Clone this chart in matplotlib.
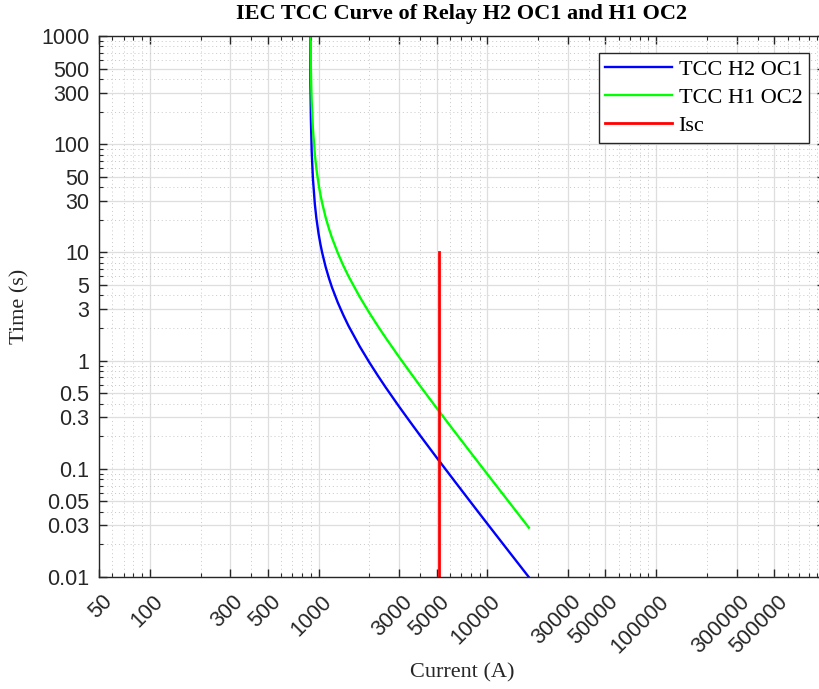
import numpy as np
import matplotlib
matplotlib.use('Agg')
import matplotlib.pyplot as plt
import matplotlib.transforms as mtransforms
from matplotlib.ticker import FixedLocator, LogLocator, NullFormatter

# data: current (A) vs trip time (s)
i_h2oc1 = [891.7, 893, 895, 900, 910, 925, 950, 970, 1000, 1025, 1050, 1100, 1150,
           1200, 1300, 1400, 1500, 1750, 2000, 2250, 2500, 3000, 3500, 4000, 5000,
           6500, 8000, 10000, 13000, 17600]
t_h2oc1 = [1000, 575.7, 345, 172, 85.5, 48.5, 27.9, 20.7, 14.8, 11.91, 9.92, 7.37, 5.81,
           4.75, 3.43, 2.64, 2.11, 1.356, 0.960, 0.721, 0.564, 0.375, 0.269, 0.2025, 0.1272,
           0.0743, 0.0487, 0.0310, 0.0183, 0.00997]

i_h1oc2 = [895, 897, 900, 905, 910, 925, 950, 970, 1000, 1025, 1050, 1100, 1150,
           1200, 1300, 1400, 1500, 1750, 2000, 2250, 2500, 3000, 3500, 4000, 5000,
           6500, 8000, 10000, 13000, 17600]
t_h1oc2 = [995, 706.7, 493.8, 328.3, 245.5, 139.2, 80.1, 59.4, 42.5, 34.2, 28.5, 21.15, 16.67,
           13.64, 9.85, 7.57, 6.06, 3.89, 2.756, 2.07, 1.62, 1.077, 0.772, 0.581, 0.365,
           0.2132, 0.1399, 0.0891, 0.0526, 0.0286]

i_sc = [5145, 5145]
t_sc = [0.01, 10]

x_ticks = [50, 100, 300, 500, 1000, 3000, 5000, 10000, 30000, 50000, 100000, 300000, 500000]
y_ticks = [0.01, 0.03, 0.05, 0.1, 0.3, 0.5, 1, 3, 5, 10, 30, 50, 100, 300, 500, 1000]

sans = ['Liberation Sans', 'DejaVu Sans']
serif = ['Liberation Serif', 'DejaVu Serif']

fig = plt.figure(figsize=(8.19, 6.89), dpi=100)
ax = fig.add_axes([99/819, 1-577/689, (825-99)/819, (577-36)/689])

ax.plot(i_h2oc1, t_h2oc1, color=(0, 0, 1), lw=1.7, label='TCC H2 OC1')
ax.plot(i_h1oc2, t_h1oc2, color=(0, 1, 0), lw=1.7, label='TCC H1 OC2')
ax.plot(i_sc, t_sc, color=(1, 0, 0), lw=2, label='Isc')

ax.set_xscale('log')
ax.set_yscale('log')
ax.set_xlim(50, 1e6)
ax.set_ylim(0.01, 1000)

ax.xaxis.set_major_locator(FixedLocator(x_ticks))
ax.yaxis.set_major_locator(FixedLocator(y_ticks))
ax.set_xticklabels([str(v) for v in x_ticks])
ax.set_yticklabels([('%g' % v) for v in y_ticks])
ax.xaxis.set_minor_locator(LogLocator(base=10, subs=np.arange(2, 10), numticks=30))
ax.yaxis.set_minor_locator(LogLocator(base=10, subs=np.arange(2, 10), numticks=30))
ax.xaxis.set_minor_formatter(NullFormatter())
ax.yaxis.set_minor_formatter(NullFormatter())

ax.grid(True, which='major', color='#dedede', lw=0.9, ls='-')
ax.grid(True, which='minor', color='#c8c8c8', lw=0.7, ls=(0, (1, 3)))
ax.set_axisbelow(True)

ax.tick_params(which='both', direction='in', top=True, right=True, color='#262626')
ax.tick_params(which='major', length=5.5, width=1)
ax.tick_params(which='minor', length=3, width=0.8)
ax.tick_params(axis='y', pad=7)
ax.tick_params(axis='x', pad=15.5)
for s in ax.spines.values():
    s.set_color('#262626')
    s.set_linewidth(1)

for lab in ax.get_yticklabels():
    lab.set_fontfamily(sans)
    lab.set_fontsize(15.5)
    lab.set_color('#262626')
offset = mtransforms.ScaledTranslation(10/100, 0, fig.dpi_scale_trans)
for lab in ax.get_xticklabels():
    lab.set_fontfamily(sans)
    lab.set_fontsize(15.5)
    lab.set_color('#262626')
    lab.set_rotation(45)
    lab.set_ha('right')
    lab.set_va('center')
    lab.set_rotation_mode('anchor')
    lab.set_transform(lab.get_transform() + offset)

fig.text(462/819, 1-14/689, 'IEC TCC Curve of Relay H2 OC1 and H1 OC2', ha='center', va='center',
         family=serif, fontsize=16, fontweight='bold')
fig.text(462/819, 1-673/689, 'Current (A)', ha='center', va='center', family=serif, fontsize=16,
         color='#262626')
fig.text(20/819, 1-306/689, 'Time (s)', ha='center', va='center', rotation=90, family=serif,
         fontsize=16, color='#262626')

leg = ax.legend(loc='upper right', bbox_to_anchor=(809/819, 1-53/689), bbox_transform=fig.transFigure,
                borderaxespad=0, prop={'family': serif, 'size': 16}, frameon=True, fancybox=False,
                framealpha=1, edgecolor='#262626', handlelength=3, handletextpad=0.3,
                labelspacing=0.33, borderpad=0.3)
leg.get_frame().set_linewidth(1)

fig.savefig('out.png', dpi=100)
